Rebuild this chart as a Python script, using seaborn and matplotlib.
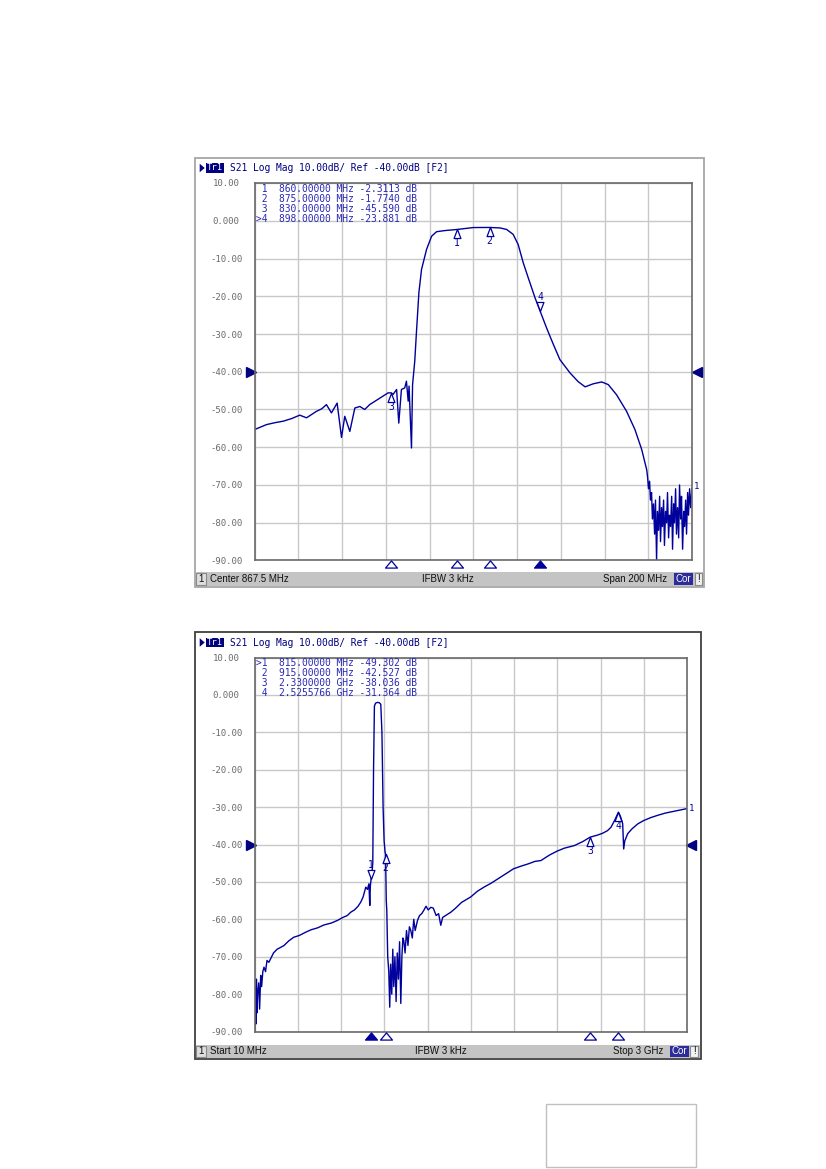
import numpy as np
import pandas as pd
import matplotlib
matplotlib.use("Agg")
import matplotlib.pyplot as plt
from matplotlib.patches import Rectangle, Polygon
from matplotlib.path import Path
import matplotlib.transforms as mtransforms
import seaborn as sns

# ---------------- data: top chart (Center 867.5 MHz, Span 200 MHz) ----------------
top_freq = [767.5, 772.9, 776.7, 780.5, 784.4, 788.1, 791.2, 795.7, 798.2, 800.3,
            802.6, 805.2, 807.2, 808.7, 811.0, 813.3, 815.6, 817.8, 820.1, 824.7,
            828.5, 830.0, 830.8, 832.4, 833.4, 834.6, 836.1, 836.9, 837.7, 838.1,
            839.2, 839.7, 840.7, 841.5, 842.6, 843.8, 846.1, 848.4, 850.7, 854.5,
            860.0, 867.5, 875.0, 879.7, 882.7, 885.7, 888.0, 890.3, 892.6, 895.7,
            898.0, 901.0, 903.9, 907.1, 911.7, 915.4, 918.6, 922.3, 926.2, 929.2,
            933.0, 937.6, 941.4, 944.5, 946.8]
top_db = [-55.3, -54.0, -53.5, -53.1, -52.4, -51.5, -52.2, -50.5, -49.8, -48.7,
          -50.9, -48.3, -57.4, -51.8, -55.8, -49.6, -49.2, -50.0, -48.7, -47.0,
          -45.6, -45.59, -46.0, -44.7, -53.6, -44.7, -44.3, -42.5, -47.8, -43.8,
          -60.2, -43.4, -37.2, -29.3, -19.0, -12.9, -7.6, -4.1, -2.9, -2.6,
          -2.3113, -1.8, -1.774, -1.9, -2.3, -3.6, -6.3, -11.1, -15.1, -20.4,
          -23.881, -28.4, -32.5, -36.8, -40.3, -42.6, -44.0, -43.2, -42.7, -43.4,
          -46.1, -50.5, -55.3, -60.6, -66.0]
top_noise_freq = [947.2, 947.6, 948.1, 948.5, 949.0, 949.4, 949.9, 950.4, 950.8, 951.3,
                  951.7, 952.2, 952.7, 953.1, 953.6, 954.0, 954.5, 954.9, 955.4, 955.9,
                  956.3, 956.8, 957.2, 957.7, 958.2, 958.6, 959.1, 959.5, 960.0, 960.4,
                  960.9, 961.4, 961.8, 962.3, 962.7, 963.2, 963.7, 964.1, 964.6, 965.0,
                  965.5, 965.9, 966.4, 966.9, 967.5]
top_noise_db = [-68, -71, -69, -74, -72, -79, -75, -83, -74, -90,
                -77, -82, -73, -85, -76, -81, -74, -86, -77, -80,
                -72, -84, -78, -81, -73, -87, -75, -80, -71, -83,
                -76, -84, -70, -79, -73, -87, -77, -81, -74, -83,
                -72, -78, -71, -76, -70.8]
top_mk_freq = [860.0, 875.0, 830.0, 898.0]
top_mk_db = [-2.3113, -1.7740, -45.590, -23.881]
top_mk_lines = [" 1  860.00000 MHz -2.3113 dB",
                " 2  875.00000 MHz -1.7740 dB",
                " 3  830.00000 MHz -45.590 dB",
                ">4  898.00000 MHz -23.881 dB"]

# ---------------- data: bottom chart (Start 10 MHz, Stop 3 GHz) ----------------
bot_freq = [10, 14, 18, 22, 26, 30, 37.7, 44, 51.5, 58, 66, 74.4, 85, 95, 108,
            120.7, 140, 165, 190, 212.8, 245, 279.9, 320, 360, 400, 444, 490, 540,
            582.4, 620, 650, 674.4, 700, 725, 743.6, 760, 778.2, 790, 800, 805.9,
            810, 815, 822, 826.7, 832, 838, 846, 860, 872, 882, 890, 898, 905,
            911.8, 915, 920, 923.6, 930, 937.4, 944, 950, 958, 965, 972, 980, 988,
            996, 1004, 1012, 1020.5, 1028, 1035, 1041.2, 1050, 1060, 1070, 1080,
            1089.7, 1100, 1110, 1120, 1136, 1150, 1165, 1179.7, 1195, 1210, 1228,
            1245, 1265, 1282, 1297, 1310, 1330, 1350, 1366.5, 1400, 1440, 1470,
            1505, 1550, 1600, 1643, 1700, 1760, 1800, 1851, 1900, 1950, 1989, 2050,
            2100, 2150, 2220, 2280, 2330, 2380, 2416, 2450, 2474, 2500, 2525.6,
            2540, 2555, 2562, 2570, 2590, 2620, 2659, 2700, 2750, 2797, 2850, 2912,
            2960, 3000]
bot_db = [-90, -78, -88, -76, -85, -80, -77, -84, -75, -78, -74, -72.8, -74, -71, -71.5,
          -70.5, -69, -68, -67.5, -67, -65.8, -64.8, -64.3, -63.5, -62.8, -62.3, -61.5, -61,
          -60.3, -59.5, -59, -58.1, -57.5, -56.5, -55.4, -54, -51.4, -52, -50.5, -56.3,
          -51, -49.3, -47, -45, -20, -3, -2.2, -2, -2.1, -2.5, -10, -30, -39,
          -42, -42.5, -55, -57.6, -70, -74, -83.5, -72, -80, -68, -78, -70, -82,
          -69, -76, -66, -82.5, -70, -65, -65.7, -69, -63, -67, -62,
          -63, -65, -60, -63, -60.3, -59, -58.5, -57.6, -56.5, -57.5, -56.8,
          -57, -59, -58.5, -61.6, -59.5, -59, -58.5, -58.1, -57, -55.5, -54.8,
          -54, -52.5, -51.3, -50.4, -49, -47.5, -46.5, -45.8, -45.2, -44.5, -44.3, -42.8,
          -41.8, -41, -40.3, -39.2, -38.036, -37.5, -37, -36.3, -35.4, -33.5, -31.364,
          -32.5, -34.4, -41.2, -39, -37.1, -35.8, -34.5, -33.6, -32.8, -32.2, -31.6, -31.1,
          -30.7, -30.4]
bot_mk_freq = [815.0, 915.0, 2330.0, 2525.5766]
bot_mk_db = [-49.302, -42.527, -38.036, -31.364]
bot_mk_lines = [">1  815.00000 MHz -49.302 dB",
                " 2  915.00000 MHz -42.527 dB",
                " 3  2.3300000 GHz -38.036 dB",
                " 4  2.5255766 GHz -31.364 dB"]

y_ticks = [10, 0, -10, -20, -30, -40, -50, -60, -70, -80, -90]
y_tick_labels = ["10.00", "0.000", "-10.00", "-20.00", "-30.00", "-40.00",
                 "-50.00", "-60.00", "-70.00", "-80.00", "-90.00"]
header_text = "S21 Log Mag 10.00dB/ Ref -40.00dB [F2]"

# ---------------- styling ----------------
sns.set_theme(style="white")
plt.rcParams['font.family'] = ['DejaVu Sans']
MONO = 'DejaVu Sans Mono'
SANS = 'Liberation Sans'
TRACE = '#00009c'
NAVY = '#000080'
TABLE = '#2a2ab4'
GRID = '#c8c8c8'

W, H = 826, 1169
fig = plt.figure(figsize=(W / 100, H / 100), dpi=100)
fig.patch.set_facecolor('white')

ov = fig.add_axes([0, 0, 1, 1], zorder=0)
ov.set_xlim(0, W)
ov.set_ylim(H, 0)
ov.axis('off')

# custom marker paths (apex at the data point)
UP = Path([(0, 0), (-0.38, -1), (0.38, -1), (0, 0)],
          [Path.MOVETO, Path.LINETO, Path.LINETO, Path.CLOSEPOLY])
DOWN = Path([(0, 0), (-0.38, 1), (0.38, 1), (0, 0)],
            [Path.MOVETO, Path.LINETO, Path.LINETO, Path.CLOSEPOLY])
FLAT_UP = Path([(-1, -0.6), (1, -0.6), (0, 0.6), (-1, -0.6)],
               [Path.MOVETO, Path.LINETO, Path.LINETO, Path.CLOSEPOLY])


def px_axes(l, t, r, b):
    return fig.add_axes([l / W, 1 - b / H, (r - l) / W, (b - t) / H], zorder=2)


def draw_panel(frame, frame_ec, header_y, status, plot_box, xlim, freqs, dbs,
               mk_f, mk_v, mk_lines, active, table_y, table_dy,
               left_status, ifbw_x, right_status, right_x, cor_box, excl_box,
               end_label_off):
    fx0, fy0, fx1, fy1 = frame
    ov.add_patch(Rectangle((fx0, fy0), fx1 - fx0, fy1 - fy0, fc='white',
                           ec=frame_ec, lw=1.3))
    # header
    ov.add_patch(Polygon([(199.7, header_y - 4.3), (199.7, header_y + 4.3),
                          (204.7, header_y)], closed=True, fc=NAVY, ec='none'))
    ov.add_patch(Rectangle((205.7, header_y - 4.8), 18.5, 9.6, fc=NAVY, ec='none'))
    ov.text(215.0, header_y, "Tr1", color='white', fontsize=6.4, family=MONO,
            ha='center', va='center')
    ov.text(230.0, header_y, header_text, color=NAVY, fontsize=6.9, family=MONO,
            ha='left', va='center')
    # status bar
    sx0, sy0, sx1, sy1 = status
    sc = (sy0 + sy1) / 2
    ov.add_patch(Rectangle((sx0, sy0), sx1 - sx0, sy1 - sy0, fc='#c4c4c4', ec='none'))
    ov.add_patch(Rectangle((196, sy0 + 1), 10, sy1 - sy0 - 2, fc='#dedede',
                           ec='#8a8a8a', lw=0.8))
    ov.text(201, sc, "1", fontsize=6.9, family=SANS, ha='center', va='center',
            color='#111111')
    ov.text(210, sc, left_status, fontsize=7.0, family=SANS, ha='left',
            va='center', color='#111111')
    ov.text(ifbw_x, sc, "IFBW 3 kHz", fontsize=7.0, family=SANS, ha='left',
            va='center', color='#111111')
    ov.text(right_x, sc, right_status, fontsize=7.0, family=SANS, ha='right',
            va='center', color='#111111')
    cx0, cx1 = cor_box
    ov.add_patch(Rectangle((cx0, sy0 + 1), cx1 - cx0, sy1 - sy0 - 2, fc='#2c2c9a',
                           ec='none'))
    ov.text((cx0 + cx1) / 2, sc, "Cor", fontsize=7.0, family=SANS, ha='center',
            va='center', color='white')
    ex0, ex1 = excl_box
    ov.add_patch(Rectangle((ex0, sy0 + 1), ex1 - ex0, sy1 - sy0 - 2, fc='#f2f2f2',
                           ec='#8a8a8a', lw=0.8))
    ov.text((ex0 + ex1) / 2, sc, "!", fontsize=7.0, family=SANS, ha='center',
            va='center', color='#111111')

    # plot area
    l, t, r, b = plot_box
    ax = px_axes(l, t, r, b)
    ax.set_facecolor('white')
    df = pd.DataFrame({'freq': freqs, 'db': dbs})
    sns.lineplot(data=df, x='freq', y='db', ax=ax, color=TRACE, linewidth=1.0,
                 estimator=None, sort=False, legend=False)
    ax.set_xlim(*xlim)
    ax.set_ylim(-90, 10)
    ax.set_xticks(np.linspace(xlim[0], xlim[1], 11))
    ax.set_xticklabels([])
    ax.set_yticks(y_ticks)
    ax.set_yticklabels(y_tick_labels)
    ax.set_xlabel('')
    ax.set_ylabel('')
    ax.grid(True, color=GRID, lw=1.0)
    ax.set_axisbelow(True)
    ax.tick_params(axis='both', length=0)
    ax.tick_params(axis='y', pad=20.5, labelsize=6.5, labelcolor='#6a6a6a')
    for lab in ax.get_yticklabels():
        lab.set_family(MONO)
        lab.set_horizontalalignment('center')
    for s in ax.spines.values():
        s.set_color('#6a6a6a')
        s.set_linewidth(1.2)

    # marker table
    for i, line in enumerate(mk_lines):
        ax.text(256, table_y + i * table_dy, line, transform=ov.transData,
                color=TABLE, fontsize=6.9, family=MONO, ha='left', va='center',
                zorder=5)

    # markers on trace
    for i, (f, v) in enumerate(zip(mk_f, mk_v)):
        if i == active:
            ax.plot([f], [v], marker=DOWN, ms=13, mfc='white', mec=TRACE, mew=0.9,
                    ls='none', zorder=6, clip_on=False)
            ax.annotate(str(i + 1), (f, v), xytext=(0, 14), textcoords='offset pixels',
                        ha='center', va='center', fontsize=7, family=MONO,
                        color=TRACE, zorder=6)
        else:
            ax.plot([f], [v], marker=UP, ms=13, mfc='white', mec=TRACE, mew=0.9,
                    ls='none', zorder=6, clip_on=False)
            ax.annotate(str(i + 1), (f, v), xytext=(0, -14), textcoords='offset pixels',
                        ha='center', va='center', fontsize=7, family=MONO,
                        color=TRACE, zorder=6)

    # marker position triangles below the grid
    btrans = mtransforms.blended_transform_factory(ax.transData, ax.transAxes)
    ypos = -4.0 / (b - t)
    for i, f in enumerate(mk_f):
        ax.plot([f], [ypos], marker=FLAT_UP, ms=8.6, transform=btrans,
                mfc=TRACE if i == active else 'white', mec=TRACE, mew=0.9,
                ls='none', clip_on=False, zorder=6)

    # reference level arrows
    rtrans = mtransforms.blended_transform_factory(ax.transAxes, ax.transData)
    ax.plot([-3.5 / (r - l)], [-40], marker='>', ms=6.5, color=NAVY, ls='none',
            transform=rtrans, clip_on=False)
    ax.plot([1 + 4.5 / (r - l)], [-40], marker='<', ms=6.5, color=NAVY, ls='none',
            transform=rtrans, clip_on=False)

    # trace end label
    ax.annotate("1", (freqs[-1], dbs[-1]), xytext=end_label_off,
                textcoords='offset pixels', ha='left', va='center', fontsize=6.5,
                family=MONO, color=TRACE, annotation_clip=False)
    return ax


draw_panel(frame=(195, 158, 704, 587), frame_ec='#a6a6a6', header_y=168.0,
           status=(196, 572, 703, 586), plot_box=(254.7, 183, 692, 560.5),
           xlim=(767.5, 967.5), freqs=top_freq + top_noise_freq,
           dbs=top_db + top_noise_db, mk_f=top_mk_freq, mk_v=top_mk_db,
           mk_lines=top_mk_lines, active=3, table_y=189.3, table_dy=9.8,
           left_status="Center 867.5 MHz", ifbw_x=422, right_status="Span 200 MHz",
           right_x=667, cor_box=(674, 693), excl_box=(695, 702),
           end_label_off=(2, 2))

draw_panel(frame=(195, 632, 701, 1059), frame_ec='#404040', header_y=642.5,
           status=(196, 1045, 700, 1058), plot_box=(254.7, 657.5, 687, 1031.5),
           xlim=(10, 3000), freqs=bot_freq, dbs=bot_db, mk_f=bot_mk_freq,
           mk_v=bot_mk_db, mk_lines=bot_mk_lines, active=0, table_y=663.0,
           table_dy=10.0, left_status="Start 10 MHz", ifbw_x=415,
           right_status="Stop 3 GHz", right_x=663, cor_box=(670, 689),
           excl_box=(690, 698), end_label_off=(2, 0))

# empty box at the lower right of the page
ov.add_patch(Rectangle((545.5, 1103.5), 150, 63, fc='none', ec='#c0c0c0', lw=1.0))

fig.savefig("out.png", dpi=100, facecolor='white')
